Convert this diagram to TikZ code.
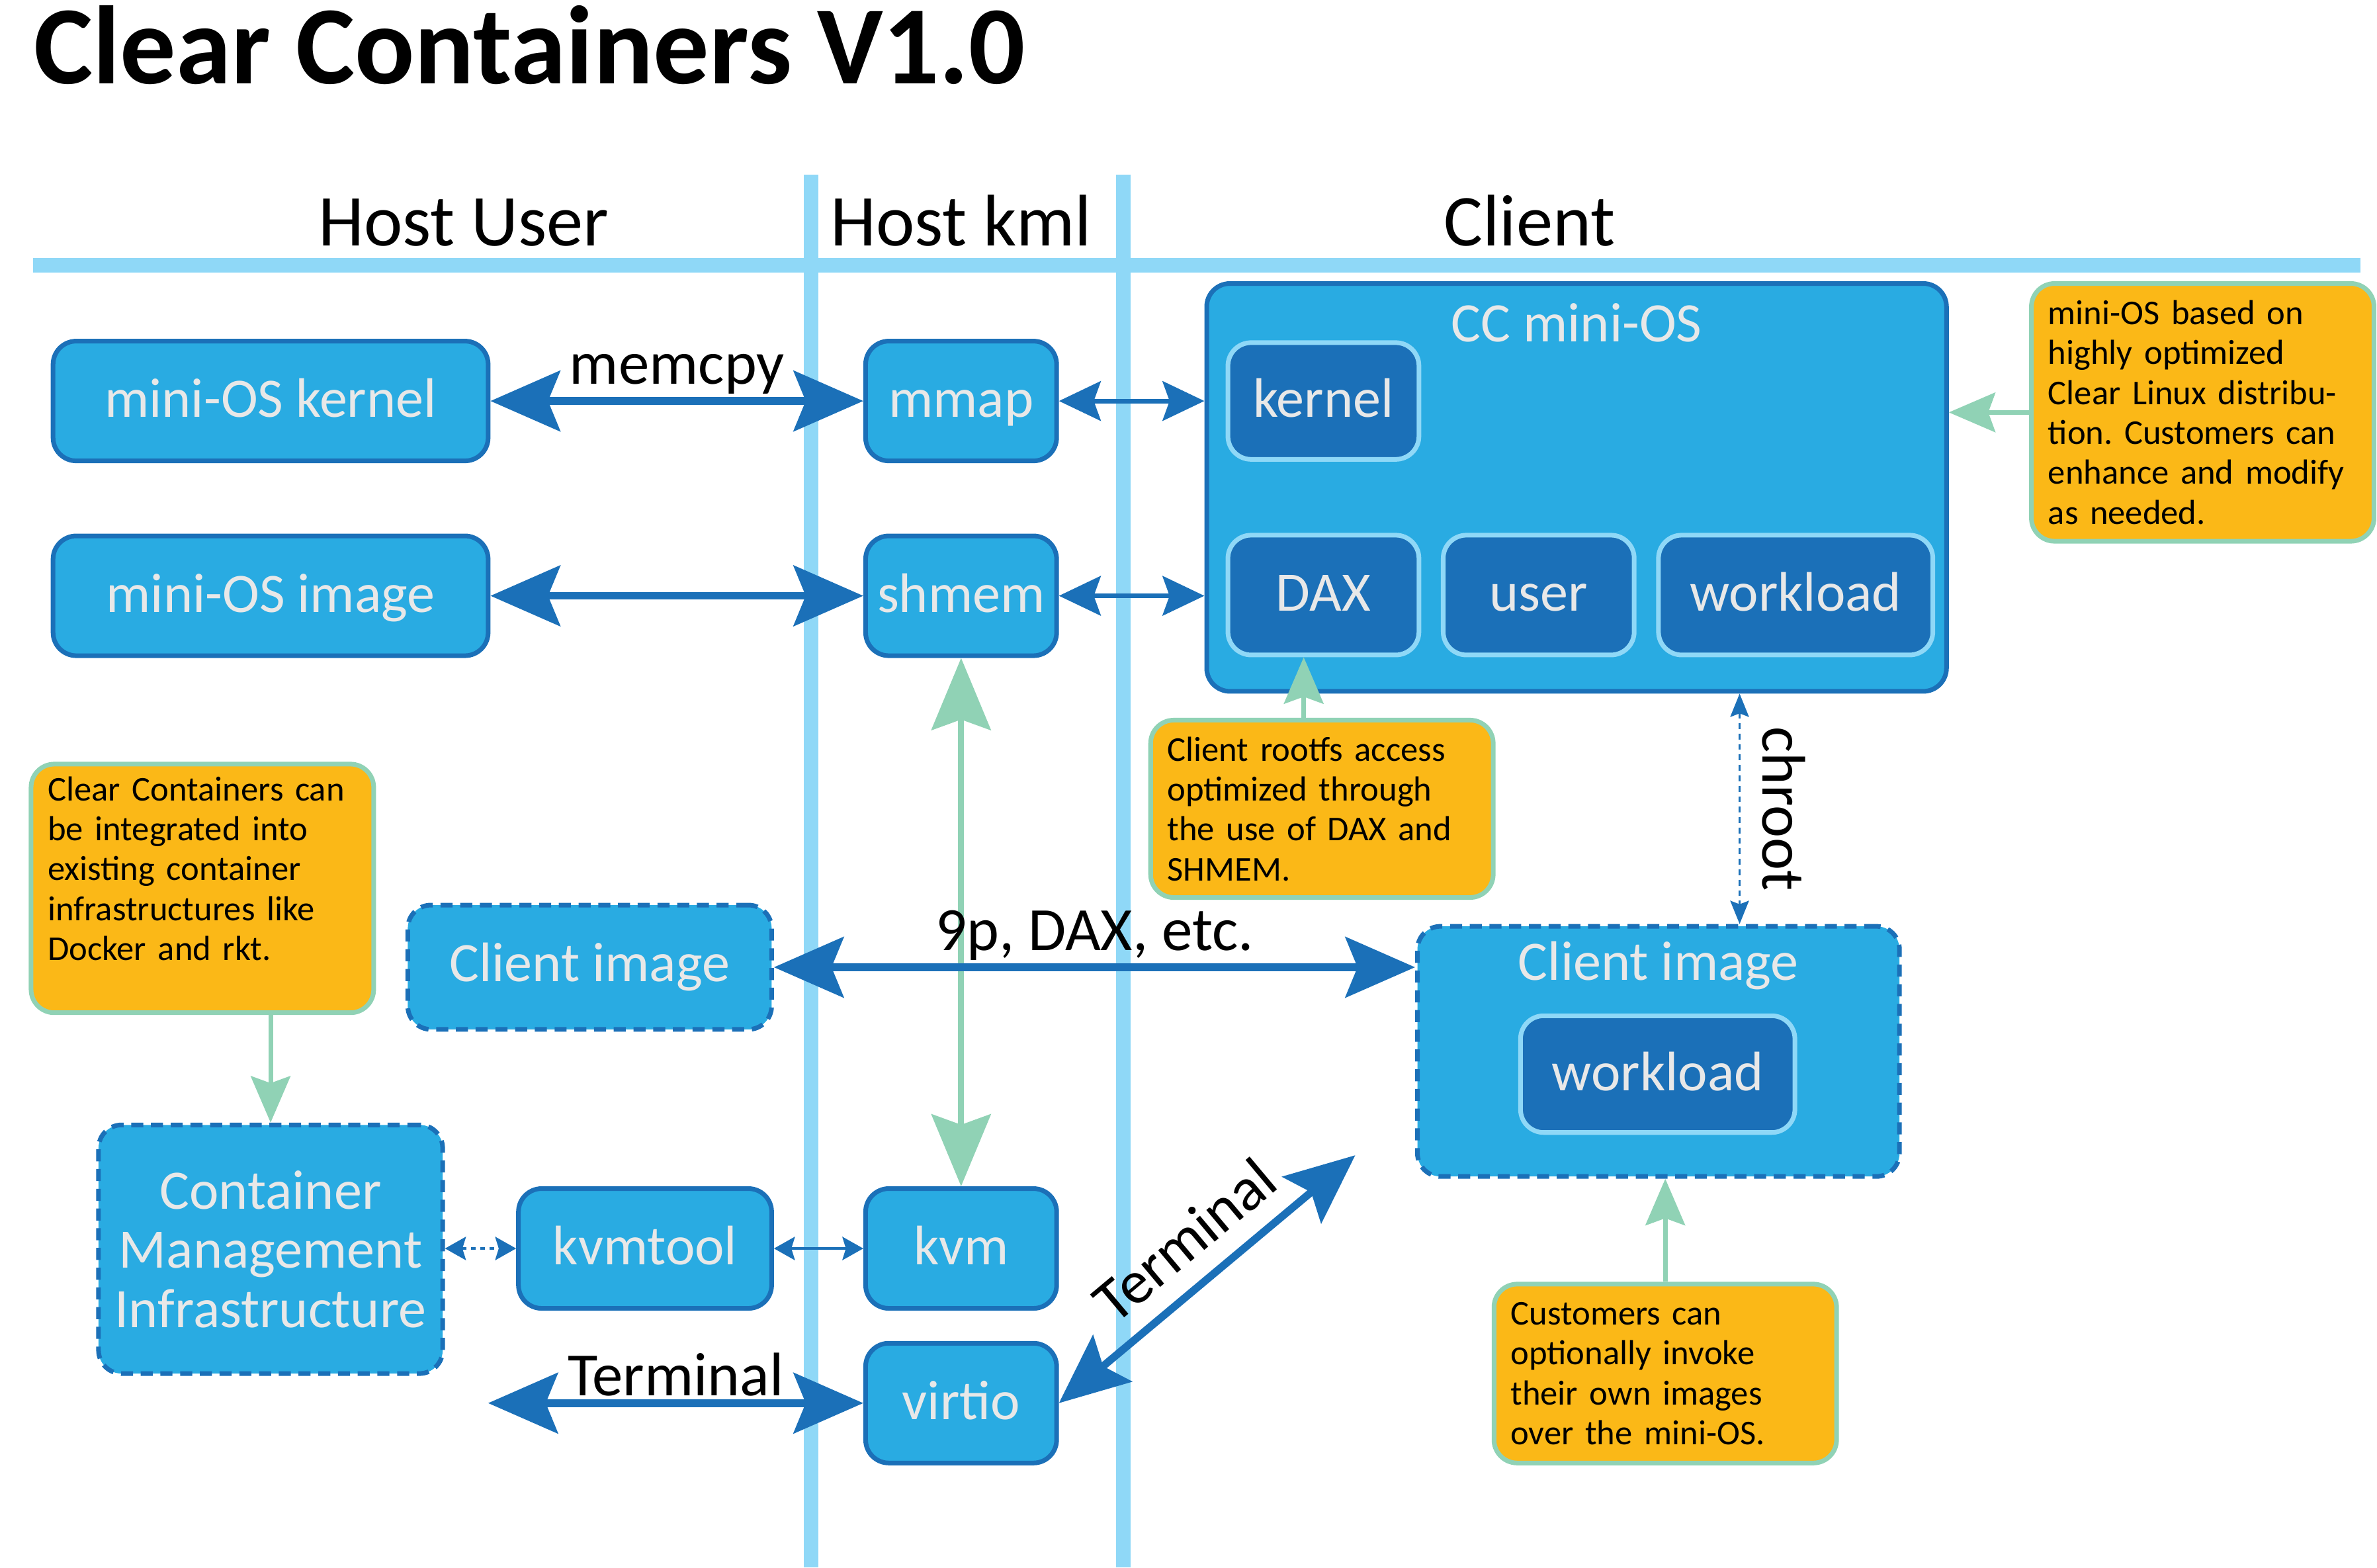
\documentclass[tikz,border=0pt]{standalone}
\usepackage{fontspec}
\setmainfont{Carlito}
\usetikzlibrary{arrows.meta}
\def\upx{0.2296mm}
\frenchspacing

\definecolor{lane}{HTML}{8FD8F7}
\definecolor{boxfill}{HTML}{29ABE2}
\definecolor{boxline}{HTML}{1B70B8}
\definecolor{notefill}{HTML}{FBB817}
\definecolor{noteline}{HTML}{90D2B5}
\definecolor{boxtext}{HTML}{E8E8E8}

\tikzset{
  lanes/.style={line width=6.5pt, lane},
  boxbase/.style={draw=boxline, fill=boxfill, line width=2pt, rounded corners=10pt, text=boxtext, font=\fontsize{24}{25.5}\selectfont, align=center},
  box/.style={boxbase, text height=17pt, text depth=3pt},
  dashbox/.style={boxbase, dash pattern=on 5.2pt off 3.3pt},
  inbox/.style={box, draw=lane, fill=boxline},
  boxtitle/.style={text=boxtext, font=\fontsize{24}{25.5}\selectfont},
  note/.style={draw=noteline, fill=notefill, line width=2pt, rounded corners=10pt, font=\fontsize{15}{17.2}\selectfont, align=left, inner xsep=11*\upx, text width=204*\upx},
  header/.style={anchor=base, font=\fontsize{31.5}{34}\selectfont},
  edgelabel/.style={black, font=\fontsize{26.5}{28}\selectfont},
  bigarrow/.style={boxline, line width=3.3pt, >={Stealth[length=30pt,width=26pt,inset=5.2pt]}, <->},
  smallarrow/.style={boxline, line width=2pt, >={Stealth[length=18pt,width=17pt,inset=3pt]}, <->},
  tinyarrow/.style={boxline, line width=1.3pt, >={Stealth[length=9pt,width=10pt,inset=1.5pt]}, <->},
  greenarrow/.style={noteline, line width=2pt, -{Stealth[length=20pt,width=17pt,inset=3pt]}},
  greenbig/.style={noteline, line width=2.6pt, >={Stealth[length=31pt,width=25.5pt,inset=4.5pt]}, <->}
}

\begin{document}
\begin{tikzpicture}[x=\upx, y=-\upx]
	%%%%% START %%%%%
	\useasboundingbox (0,0) rectangle (1568,1034);
	
	\node[anchor=base west, inner sep=0pt, font=\fontsize{48}{52}\selectfont\bfseries] (title) at (22,55) {Clear Containers V1.0};
	
	\draw[lanes] (22,175) -- (1557,175);
	\draw[lanes] (535,115) -- (535,1034);
	\draw[lanes] (741,115) -- (741,1034);
	
	\node[header] (hostuser) at (306,162) {Host User};
	\node[header] (hostkml) at (634,162) {Host kml};
	\node[header] (client) at (1009,162) {Client};
	
	\node[box, minimum width=287*\upx, minimum height=79*\upx] (oskernel) at (178.5,264.5) {mini-OS kernel};
	\node[box, minimum width=287*\upx, minimum height=79*\upx] (osimage) at (178.5,393) {mini-OS image};
	\node[box, minimum width=126*\upx, minimum height=79*\upx] (mmap) at (634,264.5) {mmap};
	\node[box, minimum width=126*\upx, minimum height=79*\upx] (shmem) at (634,393) {shmem};
	\node[box, minimum width=126*\upx, minimum height=79*\upx] (kvm) at (634,823.5) {kvm};
	\node[box, minimum width=126*\upx, minimum height=79*\upx] (virtio) at (634,925.5) {virtio};
	\node[box, minimum width=167*\upx, minimum height=79*\upx] (kvmtool) at (425.5,823.5) {kvmtool};
	\node[dashbox, minimum width=240*\upx, minimum height=82*\upx] (imgleft) at (389,638) {Client image};
	\node[dashbox, minimum width=227*\upx, minimum height=164*\upx] (cmi) at (178.5,824) {Container\\Management\\Infrastructure};
	
	\node[boxbase, minimum width=488*\upx, minimum height=269*\upx] (cc) at (1040,321.5) {};
	\node[boxtitle] (cctitle) at (1040,213) {CC mini-OS};
	\node[inbox, minimum width=126*\upx, minimum height=77*\upx] (kernel) at (873,264.5) {kernel};
	\node[inbox, minimum width=126*\upx, minimum height=79*\upx] (dax) at (873,392.5) {DAX};
	\node[inbox, minimum width=126*\upx, minimum height=79*\upx] (user) at (1015,392.5) {user};
	\node[inbox, minimum width=181*\upx, minimum height=79*\upx] (work) at (1184.5,392.5) {workload};
	
	\node[dashbox, minimum width=318*\upx, minimum height=165*\upx] (imgright) at (1094,693.5) {};
	\node[boxtitle] (imgtitle) at (1094,637) {Client image};
	\node[inbox, minimum width=181*\upx, minimum height=77*\upx] (work2) at (1093.5,708.5) {workload};
	
	\node[note, minimum height=170*\upx] (noteos) at (1453,272) {mini-OS based on\\highly optimized\\Clear Linux distribu-\\tion. Customers can\\enhance and modify\\as needed.};
	\node[note, minimum height=117*\upx] (notedax) at (872,533.5) {Client rootfs access\\optimized through\\the use of DAX and\\SHMEM.};
	\node[note, minimum height=164*\upx] (notecc) at (133.5,586) {Clear Containers can\\be integrated into\\existing container\\infrastructures like\\Docker and rkt.\\\mbox{}};
	\node[note, minimum height=118*\upx] (noteimg) at (1098.5,906) {Customers can\\optionally invoke\\their own images\\over the mini-OS.};
	
	\coordinate (termleft) at (322,925.5);
	\coordinate (termup) at (894,762);
	
	\draw[bigarrow] (oskernel) -- node[edgelabel, above=-2pt] (memcpy) {memcpy} (mmap);
	\draw[bigarrow] (osimage) -- (shmem);
	\draw[smallarrow] (mmap.east) -- (mmap.east -| cc.west);
	\draw[smallarrow] (shmem.east) -- (shmem.east -| cc.west);
	\draw[greenbig] (shmem) -- (kvm);
	\draw[bigarrow] (imgleft.east) -- node[edgelabel, above=-2pt] (ninep) {9p, DAX, etc.} (imgleft.east -| imgright.west);
	\draw[tinyarrow, dash pattern=on 2.5pt off 2pt, line width=1pt, >={Stealth[length=10pt,width=8pt,inset=1.5pt]}] ([xshift=-138*\upx]cc.south east) -- node[edgelabel, anchor=south, rotate=-90, yshift=6pt] (chroot) {chroot} ([xshift=-138*\upx]cc.south east |- imgright.north);
	\draw[tinyarrow, dash pattern=on 2pt off 2pt] (kvmtool.west -| cmi.east) -- (kvmtool.west);
	\draw[tinyarrow] (kvmtool) -- (kvm);
	\draw[bigarrow] (termleft) -- node[edgelabel, above=-2pt] (term) {Terminal} (virtio.west);
	\draw[bigarrow] (virtio.east) -- node[edgelabel, sloped, above=5pt, pos=0.52] (termdiag) {Terminal} (termup);
	
	\draw[greenarrow] (notecc.south -| cmi.north) -- (cmi.north);
	\draw[greenarrow] ([xshift=-12*\upx]notedax.north) -- ([xshift=-12*\upx]notedax.north |- dax.south);
	\draw[greenarrow] (noteos.west) -- (noteos.west -| cc.east);
	\draw[greenarrow] (noteimg.north) -- (noteimg.north |- imgright.south);
	%%%%% END %%%%%
\end{tikzpicture}
\end{document}
